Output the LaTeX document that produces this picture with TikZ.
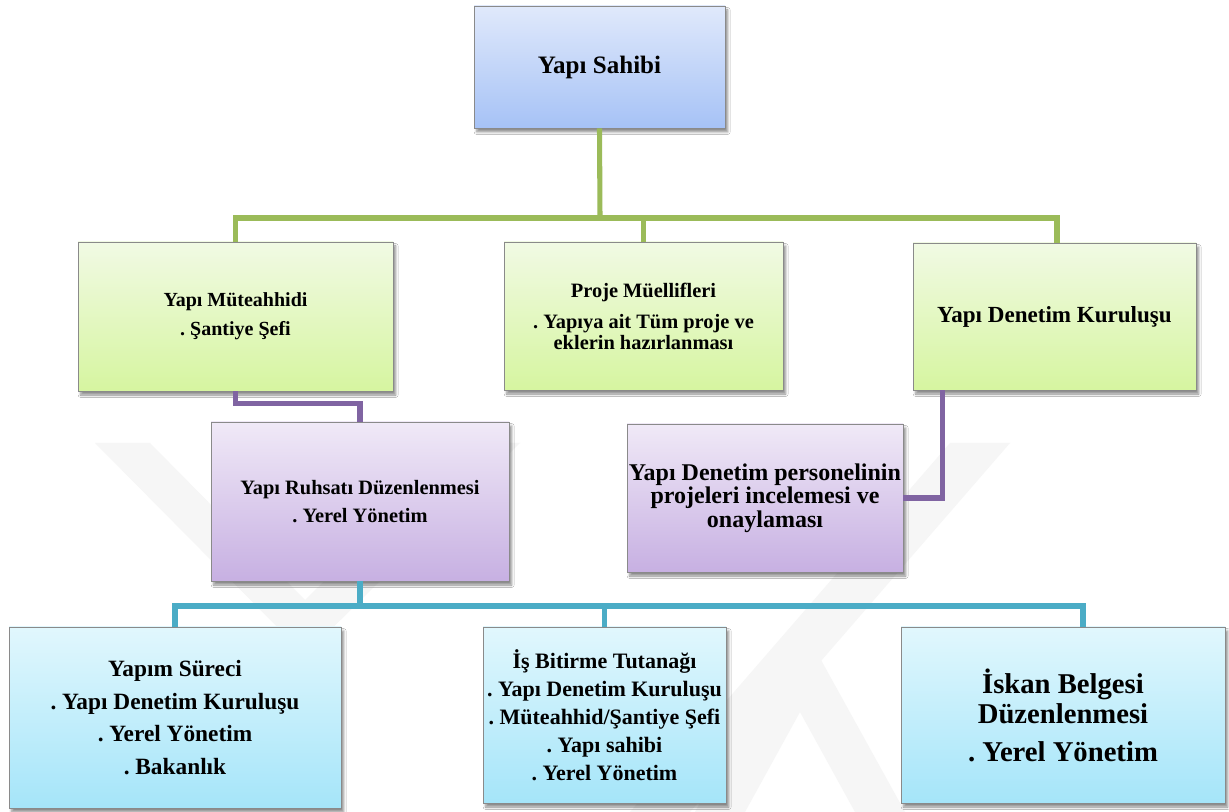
\documentclass[tikz,border=0pt]{standalone}
\usepackage{fontspec}
\setmainfont{Liberation Serif}
\usetikzlibrary{shadows.blur,calc}
\frenchspacing
\definecolor{gline}{HTML}{9BBB59}
\definecolor{pline}{HTML}{8064A2}
\definecolor{cline}{HTML}{4BACC6}
\definecolor{boxborder}{HTML}{8A8A8A}
\definecolor{blueT}{HTML}{E0E9FB}
\definecolor{blueB}{HTML}{A6C2F6}
\definecolor{greenT}{HTML}{F1FAE4}
\definecolor{greenB}{HTML}{D6F5A0}
\definecolor{purpT}{HTML}{F0E9F7}
\definecolor{purpB}{HTML}{C7B0E2}
\definecolor{cyanT}{HTML}{E1F7FD}
\definecolor{cyanB}{HTML}{A5E5F9}
\definecolor{wmark}{HTML}{F6F6F6}
\begin{document}
\begin{tikzpicture}[x=0.75pt,y=-0.75pt,
  box/.style={draw=boxborder, line width=0.7pt, align=center, inner sep=1pt,
    blur shadow={shadow xshift=2pt, shadow yshift=-3pt, shadow blur steps=6, shadow opacity=45}},
  bluebox/.style={box, top color=blueT, bottom color=blueB},
  greenbox/.style={box, top color=greenT, bottom color=greenB},
  purpbox/.style={box, top color=purpT, bottom color=purpB},
  cyanbox/.style={box, top color=cyanT, bottom color=cyanB},
  gconn/.style={draw=gline, line width=3.8pt},
  pconn/.style={draw=pline, line width=3.8pt},
  cconn/.style={draw=cline, line width=3.8pt},
  fs/.style 2 args={font=\fontsize{#1}{#2}\selectfont\bfseries\frenchspacing}
]
\useasboundingbox (0,0) rectangle (1229,812);
\fill[white] (0,0) rectangle (1229,812);
% faint watermark
\fill[wmark] (95,443) -- (150,443) -- (305,600) -- (465,443) -- (520,443) -- (305,655) -- cycle;
\fill[wmark] (950,443) -- (1010,443) -- (690,812) -- (630,812) -- cycle;
\fill[wmark] (800,622) -- (905,812) -- (855,812) -- (800,712) -- (745,812) -- (695,812) -- cycle;

% boxes
\node[bluebox, fs={18.8}{22}, minimum width=188.25pt, minimum height=91.5pt] (A) at (599.5,67) {Yapı Sahibi};

\node[greenbox, fs={15}{21.75}, minimum width=236.25pt, minimum height=111.75pt] (B) at (235.5,316.5)
  {Yapı Müteahhidi\\. Şantiye Şefi};
\node[greenbox, fs={15.3}{15.75}, minimum width=209.25pt, minimum height=111pt] (C) at (643.5,316)
  {Proje Müellifleri\\[7.5pt]. Yapıya ait Tüm proje ve\\eklerin hazırlanması};
\node[greenbox, fs={17.3}{20}, minimum width=212.25pt, minimum height=110.25pt] (D) at (1054.5,316.5)
  {Yapı Denetim Kuruluşu};

\node[purpbox, fs={15.3}{21}, minimum width=223.5pt, minimum height=119.25pt] (E) at (360,501.5)
  {Yapı Ruhsatı Düzenlenmesi\\. Yerel Yönetim};
\node[purpbox, fs={18}{17.6}, inner sep=0pt, minimum width=207pt, minimum height=111pt] (F) at (765,498)
  {Yapı Denetim personelinin\\projeleri incelemesi ve\\onaylaması};

\node[cyanbox, fs={17.5}{24.5}, minimum width=249pt, minimum height=135.75pt] (G) at (175,717.5)
  {Yapım Süreci\\. Yapı Denetim Kuruluşu\\. Yerel Yönetim\\. Bakanlık};
\node[cyanbox, fs={16.5}{21}, minimum width=182.25pt, minimum height=132pt] (H) at (604.5,715)
  {İş Bitirme Tutanağı\\. Yapı Denetim Kuruluşu\\. Müteahhid/Şantiye Şefi\\. Yapı sahibi\\. Yerel Yönetim};
\node[cyanbox, fs={21.5}{22.5}, minimum width=243pt, minimum height=132pt] (I) at (1063,715)
  {İskan Belgesi\\Düzenlenmesi\\[6pt]. Yerel Yönetim};

% green connectors
\coordinate (gj) at (600,218);
\draw[gconn] (A.south) -- (gj);
\draw[gconn] (B.north) |- (gj);
\draw[gconn] (gj) -| (C.north);
\draw[gconn] (gj) -| ($(D.north)+(2.5,0)$);

% purple connectors
\draw[pconn] (B.south) -- ++(0,12) -| (E.north);
\draw[pconn] ($(D.south west)+(30,0)$) |- (F.east);

% cyan connectors
\coordinate (cj) at (360,606);
\draw[cconn] (E.south) -- (cj);
\draw[cconn] (G.north) |- (cj);
\draw[cconn] (cj) -| (H.north);
\draw[cconn] (cj) -| ($(I.north)+(20,0)$);
\end{tikzpicture}
\end{document}
